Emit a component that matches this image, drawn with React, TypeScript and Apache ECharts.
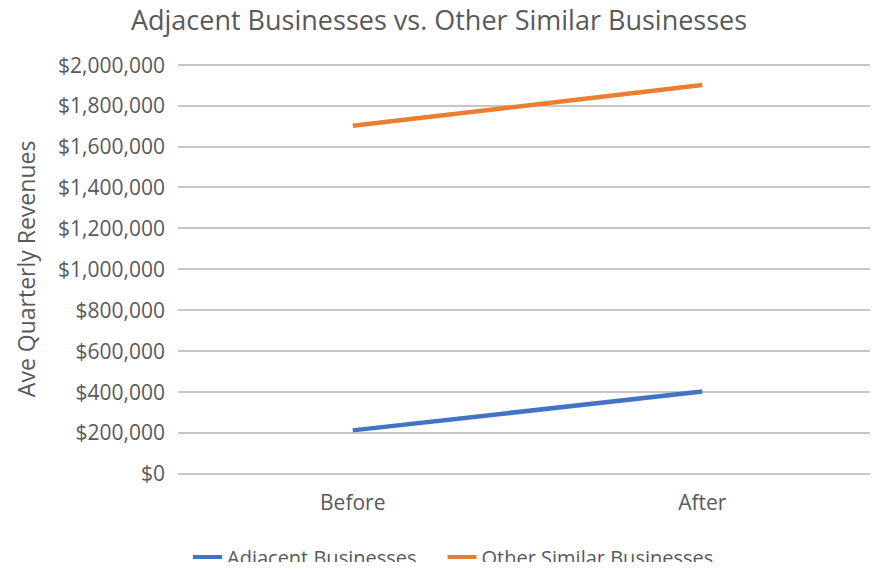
import React, { useEffect, useRef } from "react";
import * as echarts from "echarts";

const categories = ["Before", "After"];
const adjacentBusinesses = [210000, 400000];
const otherSimilarBusinesses = [1700000, 1900000];
const seriesNames = ["Adjacent Businesses", "Other Similar Businesses"];
const yMin = 0;
const yMax = 2000000;
const yStep = 200000;

const FONT = "'Open Sans', 'Noto Sans', sans-serif";
const TEXT = "#595959";

function money(v: number): string {
  return "$" + v.toLocaleString("en-US");
}

export default function App() {
  const ref = useRef<HTMLDivElement>(null);

  useEffect(() => {
    if (!ref.current) return;
    const chart = echarts.init(ref.current, undefined, { renderer: "svg" });
    chart.setOption({
      animation: false,
      backgroundColor: "#ffffff",
      title: {
        text: "Adjacent Businesses vs. Other Similar Businesses",
        left: "center",
        top: 6,
        padding: 0,
        textStyle: { fontFamily: FONT, fontSize: 27, fontWeight: "normal", color: TEXT },
      },
      grid: { left: 178, right: 1, top: 64.5, bottom: 96.7 },
      legend: {
        left: 193,
        top: 547,
        padding: 0,
        icon: "rect",
        itemWidth: 29,
        itemHeight: 4,
        itemGap: 31,
        textStyle: { fontFamily: FONT, fontSize: 20, color: TEXT },
        data: seriesNames,
      },
      xAxis: {
        type: "category",
        data: categories,
        boundaryGap: true,
        axisLine: { show: false },
        axisTick: { show: false },
        axisLabel: { fontFamily: FONT, fontSize: 21, color: TEXT, margin: 18 },
      },
      yAxis: {
        type: "value",
        min: yMin,
        max: yMax,
        interval: yStep,
        name: "Ave Quarterly Revenues",
        nameLocation: "middle",
        nameRotate: 90,
        nameGap: 141,
        nameTextStyle: { fontFamily: FONT, fontSize: 23, color: TEXT },
        axisLine: { show: false },
        axisTick: { show: false },
        axisLabel: {
          fontFamily: FONT,
          fontSize: 21,
          color: TEXT,
          margin: 13,
          formatter: (v: number) => money(v),
        },
        splitLine: { lineStyle: { color: "#c6c6c6", width: 2 } },
      },
      series: [
        {
          name: seriesNames[0],
          type: "line",
          data: adjacentBusinesses,
          symbol: "none",
          itemStyle: { color: "#4472C4" },
          lineStyle: { color: "#4472C4", width: 4.5 },
        },
        {
          name: seriesNames[1],
          type: "line",
          data: otherSimilarBusinesses,
          symbol: "none",
          itemStyle: { color: "#ED7D31" },
          lineStyle: { color: "#ED7D31", width: 4.5 },
        },
      ],
    });
    return () => chart.dispose();
  }, []);

  return <div ref={ref} style={{ width: 878, height: 570, margin: -8 }} />;
}
